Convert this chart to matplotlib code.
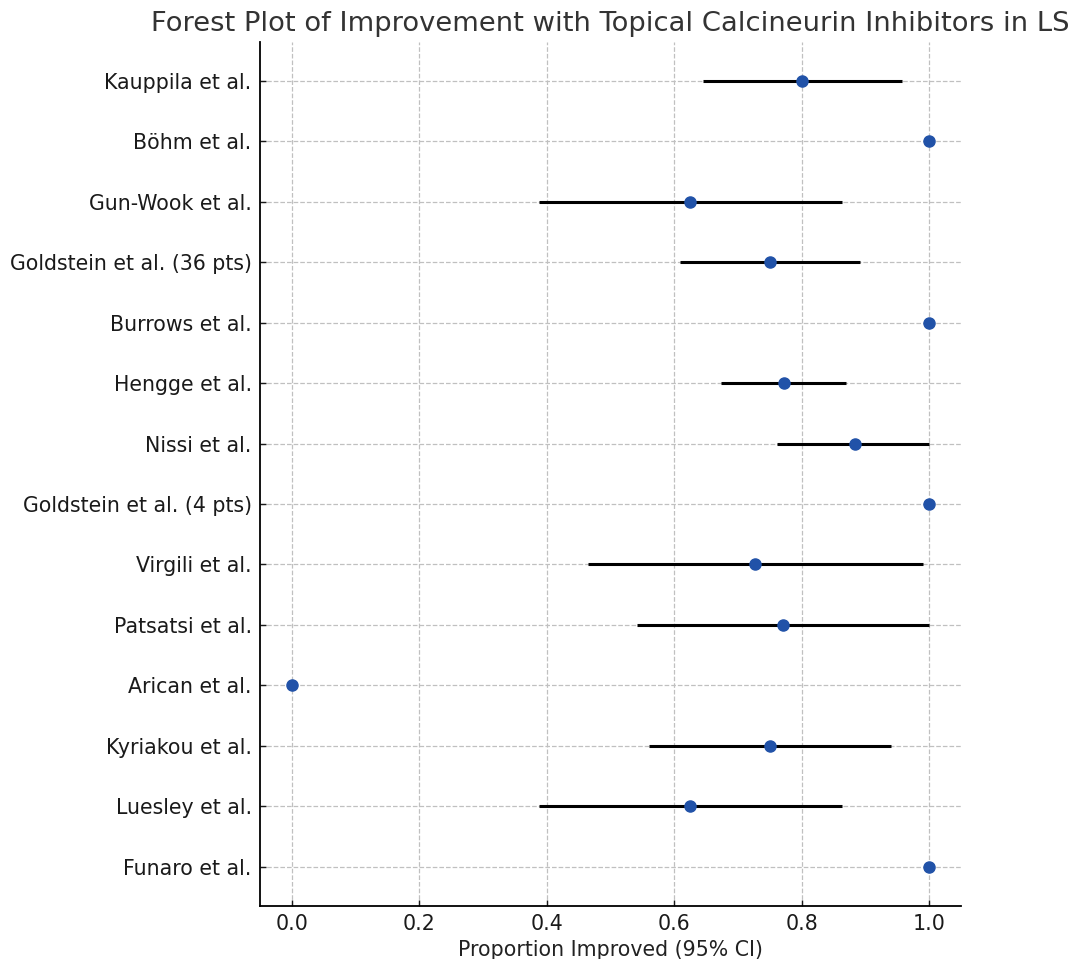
import matplotlib.pyplot as plt
import numpy as np

studies = [
    'Kauppila et al.', 'Böhm et al.', 'Gun-Wook et al.',
    'Goldstein et al. (36 pts)', 'Burrows et al.', 'Hengge et al.',
    'Nissi et al.', 'Goldstein et al. (4 pts)', 'Virgili et al.',
    'Patsatsi et al.', 'Arican et al.', 'Kyriakou et al.',
    'Luesley et al.', 'Funaro et al.'
]
proportion = [0.800, 1.0, 0.625, 0.750, 1.0, 0.772, 0.884, 1.0, 0.727, 0.770, 0.0, 0.750, 0.625, 1.0]
ci_low = [0.645, 1.0, 0.388, 0.609, 1.0, 0.674, 0.762, 1.0, 0.464, 0.541, 0.0, 0.560, 0.388, 1.0]
ci_high = [0.957, 1.0, 0.863, 0.891, 1.0, 0.870, 1.0, 1.0, 0.991, 1.0, 0.0, 0.940, 0.863, 1.0]

proportion = np.array(proportion)
err = [proportion - np.array(ci_low), np.array(ci_high) - proportion]
y = np.arange(len(studies))

fig = plt.figure(figsize=(10.74, 9.59), dpi=100)
ax = fig.add_axes([0.2421, 0.0553, 0.6527, 0.9012])

ax.errorbar(proportion, y, xerr=err, fmt='o', color='#2152a8', ecolor='black',
            elinewidth=2.2, capsize=0, markersize=8, zorder=3)

ax.set_yticks(y)
ax.set_yticklabels(studies, fontsize=14.8)
ax.invert_yaxis()
ax.set_xlim(-0.05, 1.05)
ax.set_xticks([0.0, 0.2, 0.4, 0.6, 0.8, 1.0])
ax.tick_params(axis='both', direction='in', length=4, width=1, pad=6, colors='#1a1a1a')
ax.tick_params(axis='x', labelsize=14.8)
ax.set_xlabel('Proportion Improved (95% CI)', fontsize=14.8, color='#222222', labelpad=4)
ax.set_title('Forest Plot of Improvement with Topical Calcineurin Inhibitors in LS',
             fontsize=19.75, color='#333333', pad=8)

ax.grid(True, linestyle='--', color='#c0c0c0', linewidth=0.9)
ax.set_axisbelow(True)
ax.spines['top'].set_visible(False)
ax.spines['right'].set_visible(False)
ax.spines['left'].set_linewidth(1.3)
ax.spines['bottom'].set_linewidth(1.3)

fig.savefig('out.png', dpi=100)
